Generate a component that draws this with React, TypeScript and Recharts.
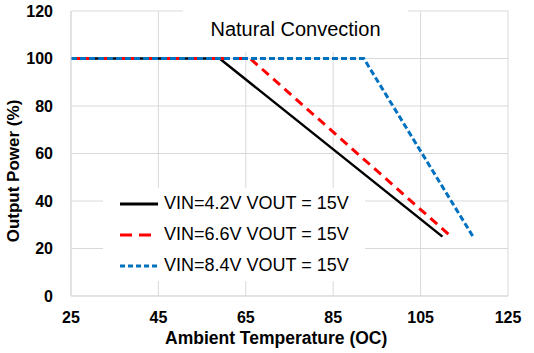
import { CartesianGrid, Line, LineChart, XAxis, YAxis } from 'recharts'

const X_TICKS = [25, 45, 65, 85, 105, 125]
const Y_TICKS = [0, 20, 40, 60, 80, 100, 120]

const SERIES_NAMES = ['VIN=4.2V VOUT = 15V', 'VIN=6.6V VOUT = 15V', 'VIN=8.4V VOUT = 15V']

const TEMP_42 = [25, 59, 110]
const POWER_42 = [100, 100, 25]
const TEMP_66 = [25, 66, 112]
const POWER_66 = [100, 100, 25]
const TEMP_84 = [25, 92, 117]
const POWER_84 = [100, 100, 25]

const toPoints = (temps: number[], powers: number[]) =>
  temps.map((t, i) => ({ temp: t, power: powers[i] }))

const STYLES = [
  { color: '#000000', dash: undefined, width: 2.5 },
  { color: '#ff0000', dash: '9 6', width: 3 },
  { color: '#0070c0', dash: '6 3', width: 3 },
]

const series = [
  toPoints(TEMP_42, POWER_42),
  toPoints(TEMP_66, POWER_66),
  toPoints(TEMP_84, POWER_84),
]

const FONT = '"Liberation Sans", Arial, sans-serif'

function LegendBox() {
  return (
    <div
      style={{
        position: 'absolute',
        left: 103,
        top: 188,
        width: 262,
        height: 93,
        background: '#fff',
        fontFamily: FONT,
      }}
    >
      {SERIES_NAMES.map((name, i) => (
        <div key={name} style={{ display: 'flex', alignItems: 'center', height: 31, marginLeft: 17 }}>
          <svg width={40} height={10}>
            <line
              x1={0}
              x2={i === 1 ? 32 : 38}
              y1={5}
              y2={5}
              stroke={STYLES[i].color}
              strokeWidth={3}
              strokeDasharray={i === 1 ? '12 7' : i === 2 ? '5 3' : undefined}
            />
          </svg>
          <span style={{ fontSize: 18, color: '#000', marginLeft: 4 }}>{name}</span>
        </div>
      ))}
    </div>
  )
}

export default function App() {
  return (
    <div style={{ position: 'absolute', left: 0, top: 0, width: 534, height: 353, background: '#fff', fontFamily: FONT }}>
      <LineChart width={534} height={353} margin={{ top: 11, right: 26, bottom: 0, left: 0 }}>
        <CartesianGrid stroke="#d9d9d9" strokeWidth={1} />
        <XAxis
          type="number"
          dataKey="temp"
          domain={[25, 125]}
          ticks={X_TICKS}
          height={57}
          axisLine={{ stroke: '#d9d9d9' }}
          tickLine={false}
          tickMargin={10}
          tick={{ fill: '#000', fontSize: 16, fontWeight: 'bold', fontFamily: FONT }}
          allowDuplicatedCategory={false}
        />
        <YAxis
          type="number"
          domain={[0, 120]}
          ticks={Y_TICKS}
          width={71}
          axisLine={{ stroke: '#d9d9d9' }}
          tickLine={false}
          tickMargin={12}
          tick={{ fill: '#000', fontSize: 16, fontWeight: 'bold', fontFamily: FONT }}
        />
        {series.map((data, i) => (
          <Line
            key={SERIES_NAMES[i]}
            data={data}
            dataKey="power"
            name={SERIES_NAMES[i]}
            type="linear"
            stroke={STYLES[i].color}
            strokeWidth={STYLES[i].width}
            strokeDasharray={STYLES[i].dash}
            dot={false}
            activeDot={false}
            isAnimationActive={false}
          />
        ))}
      </LineChart>
      <LegendBox />
      <div
        style={{
          position: 'absolute',
          left: 183,
          top: 4,
          width: 225,
          height: 48,
          background: '#fff',
          textAlign: 'center',
          fontSize: 20,
          lineHeight: '50px',
          color: '#000',
        }}
      >
        Natural Convection
      </div>
      <div
        style={{
          position: 'absolute',
          left: 165,
          top: 328,
          width: 200,
          textAlign: 'center',
          fontSize: 17.5,
          fontWeight: 'bold',
          whiteSpace: 'nowrap',
          color: '#000',
        }}
      >
        Ambient Temperature (OC)
      </div>
      <div
        style={{
          position: 'absolute',
          left: 14,
          top: 171,
          width: 0,
          height: 0,
        }}
      >
        <div
          style={{
            position: 'absolute',
            transform: 'translate(-50%, -50%) rotate(-90deg)',
            fontSize: 17,
            fontWeight: 'bold',
            whiteSpace: 'nowrap',
            color: '#000',
          }}
        >
          Output Power (%)
        </div>
      </div>
    </div>
  )
}
